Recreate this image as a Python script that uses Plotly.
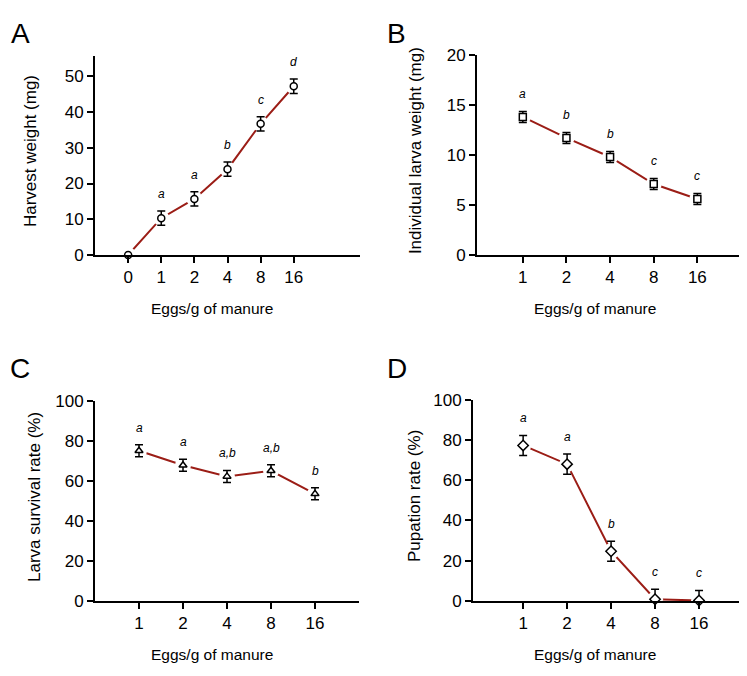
import plotly.graph_objects as go

# ---------------- data ----------------
cats_a = ["0", "1", "2", "4", "8", "16"]
harvest_weight = [0, 10.3, 15.7, 24.0, 36.7, 47.2]
harvest_err = [0, 2.0, 2.0, 2.0, 2.0, 2.0]
harvest_sig = ["", "a", "a", "b", "c", "d"]

cats = ["1", "2", "4", "8", "16"]
larva_weight = [13.8, 11.7, 9.8, 7.1, 5.6]
larva_weight_err = [0.55, 0.55, 0.55, 0.55, 0.55]
larva_weight_sig = ["a", "b", "b", "c", "c"]

survival = [75.0, 67.8, 62.2, 65.0, 53.5]
survival_err = [3.0, 3.0, 3.0, 3.0, 3.0]
survival_sig = ["a", "a", "a,b", "a,b", "b"]

pupation = [77.3, 68.0, 24.7, 0.8, 0.2]
pupation_err = [5.0, 5.0, 5.0, 5.0, 5.0]
pupation_sig = ["a", "a", "b", "c", "c"]

W, H = 747, 676
OFF = 8                      # page body margin compensation
FW, FH = W - OFF, H - OFF
LINE = "#9b1d16"
FONT = "Liberation Sans, Arial, Helvetica, sans-serif"


def px(x):
    return (x - OFF) / FW


def py(y):
    return 1 - (y - OFF) / FH


fig = go.Figure()

# letter position: (x, y, yanchor)
panels = [
    (cats_a, harvest_weight, harvest_err, harvest_sig, "circle", "x", "y",
     (95, 360), (48, 253), [-1, 7], [0, 55.7], 10, "Harvest weight (mg)", "A",
     (20, OFF, "top"), (212, 308), (30, 146)),
    (cats, larva_weight, larva_weight_err, larva_weight_sig, "square", "x2", "y2",
     (477, 741), (47, 253), [-1.05, 5], [0, 20], 5, "Individual larva weight (mg)", "B",
     (396, OFF, "top"), (595, 308), (415, 145)),
    (cats, survival, survival_err, survival_sig, "triangle-up", "x3", "y3",
     (95, 359), (403, 609), [-1, 5], [0, 100], 20, "Larva survival rate (%)", "C",
     (20, 370, "middle"), (212, 664), (35, 502)),
    (cats, pupation, pupation_err, pupation_sig, "diamond", "x4", "y4",
     (473, 743), (402, 609), [-1.14, 5], [0, 100], 20, "Pupation rate (%)", "D",
     (397, 370, "middle"), (595, 664), (415, 501)),
]

annotations = []
for i, (c, v, e, sig, sym, xa, ya, xd, yd, xr, yr, dt, ytitle, letter, lpos, xtpos, ytpos) in enumerate(panels):
    xpos = list(range(len(c)))
    # connecting line
    fig.add_trace(go.Scatter(x=xpos, y=v, xaxis=xa, yaxis=ya, mode="lines",
                             line=dict(color=LINE, width=2), hoverinfo="skip",
                             showlegend=False, cliponaxis=False))
    # white halos creating gaps around points
    fig.add_trace(go.Scatter(x=xpos, y=v, xaxis=xa, yaxis=ya, mode="markers",
                             marker=dict(color="white", size=16, symbol="circle",
                                         line=dict(width=0)),
                             hoverinfo="skip", showlegend=False, cliponaxis=False))
    # points with error bars
    minus = [min(ee, vv) for ee, vv in zip(e, v)]
    fig.add_trace(go.Scatter(x=xpos, y=v, xaxis=xa, yaxis=ya, mode="markers",
                             marker=dict(color="white", size=7 if sym != "diamond" else 8,
                                         symbol=sym, line=dict(color="black", width=1.5)),
                             error_y=dict(type="data", array=e, arrayminus=minus,
                                          color="black", thickness=1.5, width=4),
                             showlegend=False, cliponaxis=False))
    for xx, vv, ee, s in zip(xpos, v, e, sig):
        if s:
            annotations.append(dict(x=xx, y=vv + ee, xref=xa, yref=ya, text="<i>%s</i>" % s,
                                    showarrow=False, yshift=17, yanchor="middle",
                                    font=dict(size=12, color="black", family=FONT)))
    annotations.append(dict(x=px(lpos[0]), y=py(lpos[1]), xref="paper", yref="paper",
                            text=letter, showarrow=False, xanchor="center", yanchor=lpos[2],
                            borderpad=0,
                            font=dict(size=28, color="black", family=FONT)))
    annotations.append(dict(x=px(xtpos[0]), y=py(xtpos[1]), xref="paper", yref="paper",
                            text="Eggs/g of manure", showarrow=False, xanchor="center",
                            yanchor="middle", font=dict(size=15.5, color="black", family=FONT)))
    annotations.append(dict(x=px(ytpos[0]), y=py(ytpos[1]), xref="paper", yref="paper",
                            text=ytitle, showarrow=False, textangle=-90, xanchor="center",
                            yanchor="middle", font=dict(size=17, color="black", family=FONT)))

    sfx = "" if i == 0 else str(i + 1)
    fig.update_layout(**{
        "xaxis" + sfx: dict(domain=[px(xd[0]), px(xd[1])], anchor=ya,
                            range=xr, tickmode="array", tickvals=xpos, ticktext=c,
                            showgrid=False, zeroline=False, showline=True,
                            linecolor="black", linewidth=1.8, ticks="outside", ticklen=6,
                            tickwidth=1.5, tickcolor="black",
                            tickfont=dict(size=17, color="black", family=FONT)),
        "yaxis" + sfx: dict(domain=[py(yd[1]), py(yd[0])], anchor=xa, range=yr, dtick=dt,
                            tick0=0, showgrid=False, zeroline=False, showline=True,
                            linecolor="black", linewidth=1.8, ticks="outside", ticklen=6,
                            tickwidth=1.5, tickcolor="black",
                            tickfont=dict(size=17, color="black", family=FONT)),
    })

fig.update_layout(width=FW, height=FH, margin=dict(l=0, r=0, t=0, b=0),
                  plot_bgcolor="white", paper_bgcolor="white",
                  annotations=annotations, showlegend=False,
                  font=dict(family=FONT, color="black"))

fig.write_html("out.html")
